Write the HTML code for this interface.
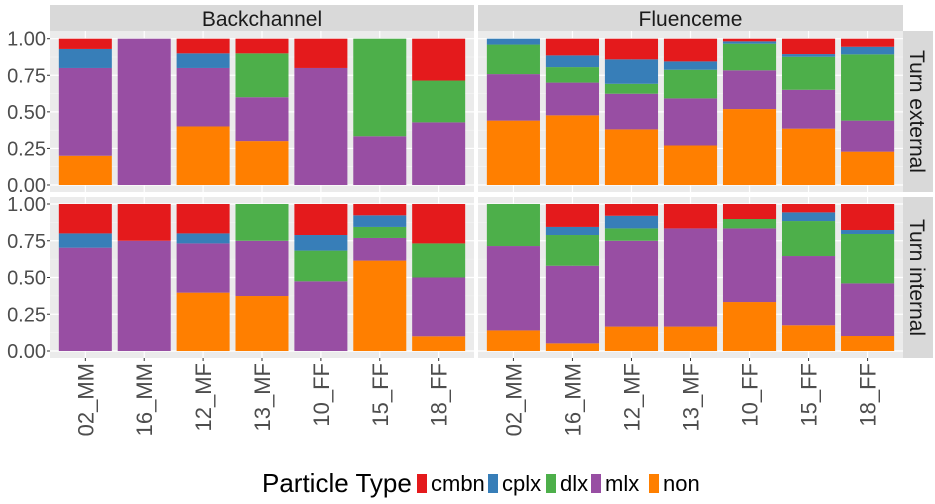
<!DOCTYPE html>
<html><head><meta charset="utf-8"><style>
html,body{margin:0;padding:0;background:#fff}
svg{display:block;font-family:"Liberation Sans",Arial,sans-serif}
</style></head><body>
<svg id="chart" width="935" height="504" viewBox="0 0 935 504" xmlns="http://www.w3.org/2000/svg"></svg>
<script>
const categories=["02_MM","16_MM","12_MF","13_MF","10_FF","15_FF","18_FF"];
const types=["non","mlx","dlx","cplx","cmbn"];
const colors={cmbn:"#E41A1C",cplx:"#377EB8",dlx:"#4DAF4A",mlx:"#984EA3",non:"#FF7F00"};
const yTicks=[0,0.25,0.5,0.75,1];
const yTickLabels=["0.00","0.25","0.50","0.75","1.00"];
// values per category: [non, mlx, dlx, cplx, cmbn]
const backExt=[[0.2,0.6,0,0.13,0.07],[0,1,0,0,0],[0.4,0.4,0,0.1,0.1],[0.3,0.3,0.3,0,0.1],[0,0.8,0,0,0.2],[0,0.333,0.667,0,0],[0,0.428,0.286,0,0.286]];
const fluExt=[[0.44,0.318,0.202,0.04,0],[0.476,0.224,0.106,0.08,0.114],[0.38,0.244,0.068,0.167,0.141],[0.27,0.322,0.196,0.057,0.155],[0.519,0.265,0.182,0.016,0.018],[0.385,0.266,0.226,0.018,0.105],[0.228,0.212,0.453,0.052,0.055]];
const backInt=[[0,0.703,0,0.097,0.2],[0,0.75,0,0,0.25],[0.397,0.335,0,0.068,0.2],[0.374,0.376,0.25,0,0],[0,0.474,0.209,0.106,0.211],[0.615,0.154,0.075,0.079,0.077],[0.1,0.4,0.232,0,0.268]];
const fluInt=[[0.14,0.574,0.286,0,0],[0.052,0.528,0.209,0.055,0.156],[0.166,0.584,0.084,0.086,0.08],[0.166,0.668,0,0,0.166],[0.333,0.501,0.064,0,0.102],[0.175,0.471,0.238,0.059,0.057],[0.102,0.358,0.336,0.027,0.177]];
const panels=[
 {name:"backchannel-turn-external",data:backExt,x0:50,x1:474,y0:31,y1:192,v0:185,v1:38.7},
 {name:"fluenceme-turn-external",data:fluExt,x0:478,x1:903,y0:31,y1:192,v0:185,v1:38.7},
 {name:"backchannel-turn-internal",data:backInt,x0:50,x1:474,y0:197,y1:358,v0:351,v1:204},
 {name:"fluenceme-turn-internal",data:fluInt,x0:478,x1:903,y0:197,y1:358,v0:351,v1:204}];
const svg=document.getElementById('chart');
const NS="http://www.w3.org/2000/svg";
function mk(tag,attrs,parent,text){const e=document.createElementNS(NS,tag);for(const k in attrs)e.setAttribute(k,attrs[k]);if(text!==undefined)e.textContent=text;(parent||svg).appendChild(e);return e;}
panels.forEach((p,pi)=>{
 const g=mk('g',{});
 
 
 mk('rect',{x:p.x0,y:p.y0,width:p.x1-p.x0,height:p.y1-p.y0,fill:'#EBEBEB'},g);
 const unit=(p.x1-p.x0)/7.2;
 const xS=i=>p.x0+(i+0.6)*unit;
 const yS=v=>p.v0+(p.v1-p.v0)*v;
 [0.125,0.375,0.625,0.875].forEach(v=>mk('line',{x1:p.x0,x2:p.x1,y1:yS(v),y2:yS(v),stroke:'#F5F5F5','stroke-width':0.6},g));
 yTicks.forEach(v=>mk('line',{x1:p.x0,x2:p.x1,y1:yS(v),y2:yS(v),stroke:'#fff','stroke-width':1.2},g));
 categories.forEach((c,i)=>mk('line',{x1:xS(i),x2:xS(i),y1:p.y0,y2:p.y1,stroke:'#fff','stroke-width':1.2},g));
 p.data.forEach((vals,i)=>{
  let cum=0;
  vals.forEach((v,k)=>{
   if(v<=0){return;}
   const r=mk('rect',{x:xS(i)-0.45*unit,width:0.9*unit,y:yS(cum+v),height:yS(cum)-yS(cum+v),fill:colors[types[k]]},g);
   
   
   cum+=v;
  });
 });
 if(pi%2===0){
  yTicks.forEach((v,j)=>{
   mk('line',{x1:p.x0-3,x2:p.x0,y1:yS(v),y2:yS(v),stroke:'#333','stroke-width':1},g);
   const t=mk('text',{x:p.x0-4,y:yS(v)+7,'text-anchor':'end','font-size':20,fill:'#4D4D4D'},g,yTickLabels[j]);
   
   
  });
 }
 if(pi>=2){
  categories.forEach((c,i)=>{
   mk('line',{x1:xS(i),x2:xS(i),y1:p.y1,y2:p.y1+3,stroke:'#333','stroke-width':1},g);
   const t=mk('text',{x:0,y:0,'text-anchor':'end','font-size':22,fill:'#4D4D4D',transform:`translate(${xS(i)+8},${p.y1+5}) rotate(-90)`},g,c);
   
   
  });
 }
});
// strips
[["Backchannel",50,474],["Fluenceme",478,903]].forEach(s=>{
 mk('rect',{x:s[1],y:5,width:s[2]-s[1],height:26,fill:'#D9D9D9'});
 const t=mk('text',{x:(s[1]+s[2])/2,y:26,'text-anchor':'middle','font-size':21,fill:'#1A1A1A'},svg,s[0]);
 
 
});
[["Turn external",31,192],["Turn internal",197,358]].forEach(s=>{
 mk('rect',{x:903,y:s[1],width:30,height:s[2]-s[1],fill:'#D9D9D9'});
 const cy=(s[1]+s[2])/2;
 const t=mk('text',{x:0,y:0,'text-anchor':'middle','font-size':21,fill:'#1A1A1A',transform:`translate(910,${cy}) rotate(90)`},svg,s[0]);
 
 
});
// legend
const lt=mk('text',{x:262,y:492,'font-size':26,fill:'#000'},svg,"Particle Type");


const legendKeys=["cmbn","cplx","dlx","mlx","non"];
const legendX=[417,488,546,591,649];
legendKeys.forEach((k,i)=>{
 const g=mk('g',{});
 
 
 mk('rect',{x:legendX[i],y:474,width:10,height:19,fill:colors[k]},g);
 mk('text',{x:legendX[i]+14,y:491,'font-size':22,fill:'#000'},g,k);
});
</script>
</body></html>
